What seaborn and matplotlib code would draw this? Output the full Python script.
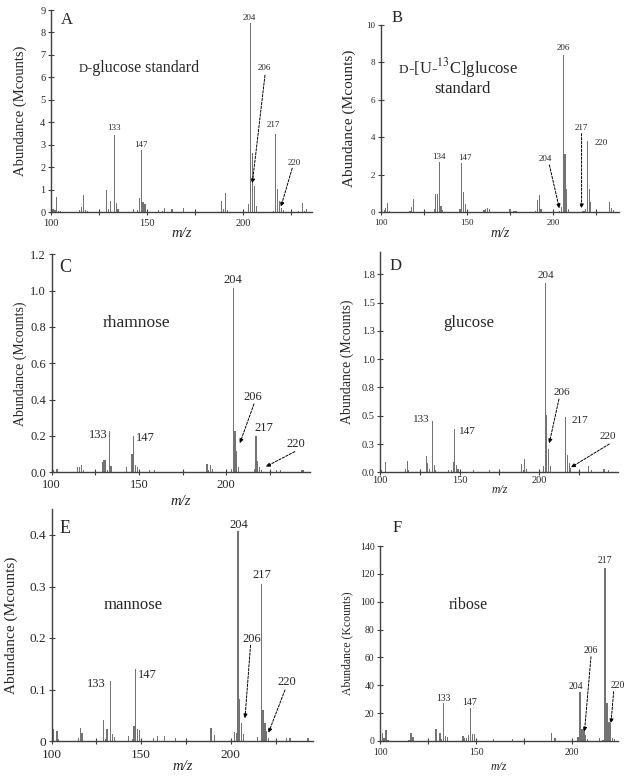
import matplotlib
matplotlib.use("Agg")
import matplotlib.pyplot as plt
import seaborn as sns
import pandas as pd

# ── Spectra (m/z, abundance) ───────────────────────────────────────────
A_MZ = [101, 102, 103, 104, 105, 115, 116, 117, 118, 119, 129, 130, 131, 133, 134, 135,
        143, 145, 146, 147, 148, 149, 156, 158, 159, 163, 169, 189, 190, 191, 192,
        203, 204, 205, 206, 207, 216, 217, 218, 219, 220, 221, 229, 231, 232, 233]
A_ABUND = [0.15, 0.1, 0.68, 0.07, 0.05, 0.1, 0.25, 0.75, 0.1, 0.08, 1.0, 0.15, 0.5, 3.44, 0.4, 0.15,
           0.15, 0.1, 0.62, 2.77, 0.45, 0.35, 0.1, 0.08, 0.2, 0.15, 0.2, 0.5, 0.15, 0.87, 0.1,
           0.35, 8.4, 2.63, 1.15, 0.28, 0.05, 3.5, 1.04, 0.5, 0.18, 0.1, 0.05, 0.43, 0.07, 0.15]

B_MZ = [102, 103, 104, 105, 117, 118, 119, 131, 132, 133, 134, 135, 136, 146, 147, 148, 149,
        160, 161, 162, 163, 175, 177, 178, 179, 190, 191, 192, 193, 204, 205, 206, 207, 208, 209,
        217, 218, 219, 220, 221, 222, 233, 234, 235]
B_ABUND = [0.1, 0.25, 0.52, 0.05, 0.05, 0.27, 0.72, 0.2, 1.0, 1.0, 2.7, 0.35, 0.1, 0.15, 2.65, 1.1, 0.45,
           0.1, 0.2, 0.22, 0.15, 0.2, 0.05, 0.05, 0.05, 0.05, 0.65, 0.93, 0.2, 0.05, 0.3, 8.4, 3.1, 1.23, 0.15,
           0.05, 0.05, 0.2, 3.83, 1.23, 0.53, 0.55, 0.25, 0.1]

C_MZ = [101, 103, 115, 116, 117, 118, 129, 130, 131, 132, 133, 134, 143, 146, 147, 148, 149,
        156, 159, 189, 190, 191, 192, 203, 204, 205, 206, 207, 216, 217, 218, 219, 220,
        229, 231, 243, 244]
C_ABUND = [0.015, 0.02, 0.03, 0.03, 0.04, 0.01, 0.055, 0.07, 0.065, 0.01, 0.228, 0.035, 0.03, 0.1, 0.2, 0.04, 0.03,
           0.01, 0.01, 0.045, 0.01, 0.04, 0.02, 0.02, 1.013, 0.23, 0.12, 0.03, 0.02, 0.2, 0.06, 0.03, 0.015,
           0.01, 0.01, 0.01, 0.01]

D_MZ = [101, 103, 116, 117, 118, 129, 130, 131, 133, 134, 135, 143, 145, 146, 147, 148, 149,
        159, 169, 189, 190, 191, 192, 203, 204, 205, 206, 207, 217, 218, 219, 220,
        231, 233, 241, 244]
D_ABUND = [0.02, 0.09, 0.03, 0.1, 0.02, 0.14, 0.08, 0.03, 0.45, 0.065, 0.02, 0.02, 0.02, 0.09, 0.38, 0.065, 0.03,
           0.02, 0.02, 0.07, 0.02, 0.12, 0.03, 0.06, 1.67, 0.507, 0.21, 0.06, 0.49, 0.15, 0.08, 0.035,
           0.055, 0.02, 0.03, 0.02]

E_MZ = [101, 103, 104, 115, 116, 117, 129, 130, 131, 133, 134, 135, 143, 145, 146, 147, 148, 149,
        157, 159, 163, 169, 189, 191, 202, 203, 204, 205, 206, 207, 215, 217, 218, 219, 220, 221,
        231, 233, 243]
E_ABUND = [0.023, 0.02, 0.004, 0.005, 0.025, 0.015, 0.041, 0.004, 0.024, 0.116, 0.014, 0.008, 0.01, 0.004,
           0.029, 0.139, 0.023, 0.021, 0.006, 0.01, 0.009, 0.005, 0.025, 0.011, 0.017, 0.016, 0.408, 0.081,
           0.034, 0.013, 0.008, 0.305, 0.06, 0.034, 0.02, 0.005, 0.005, 0.005, 0.005]

F_MZ = [101, 102, 103, 104, 115, 116, 117, 129, 131, 132, 133, 134, 135, 143, 144, 145, 146, 147, 148, 149,
        159, 169, 189, 191, 203, 204, 205, 206, 207, 208, 214, 216, 217, 218, 219, 220, 221, 222]
F_ABUND = [6, 2, 8, 1, 1, 6, 3, 8.4, 5.5, 1.5, 27, 3.5, 3, 3.5, 2.5, 2, 4, 23.4, 5, 5,
           1.5, 1.5, 6, 2.5, 3, 35.4, 8.5, 8.5, 4, 1.5, 2, 0.5, 124, 27.5, 13.5, 13, 2.4, 1.5]

# ── Style ──────────────────────────────────────────────────────────────
sns.set_style("ticks")
plt.rcParams["font.family"] = ["Liberation Serif", "DejaVu Serif"]
plt.rcParams["mathtext.fontset"] = "stix"

W, H = 632, 779
BAR_COLOR = "0.45"
AX_COLOR = "0.25"
fig = plt.figure(figsize=(W / 100, H / 100), dpi=100)


def px_axes(left, top, right, bottom):
    return fig.add_axes([left / W, 1 - bottom / H, (right - left) / W, (bottom - top) / H])


def draw_panel(box, mz, ab, xmax, ymax, yticks, ylabels, cfg):
    ax = px_axes(*box)
    df = pd.DataFrame({"mz": mz, "ab": ab})
    sns.barplot(data=df, x="mz", y="ab", native_scale=True, width=0.7, color=BAR_COLOR,
                saturation=1, errorbar=None, linewidth=0, ax=ax)
    ax.set_xlim(100, xmax)
    ax.set_ylim(0, ymax)
    sns.despine(ax=ax)
    for s in ("left", "bottom"):
        ax.spines[s].set_color(AX_COLOR)
        ax.spines[s].set_linewidth(1.0)
    ax.set_xticks([100, 150, 200])
    ax.set_xticks([t for t in (125, 175, 225) if t < xmax], minor=True)
    ax.set_yticks(yticks)
    ax.set_yticklabels(ylabels)
    ax.tick_params(axis="both", which="both", direction="inout", length=4, width=0.8,
                   color=AX_COLOR, labelsize=cfg["tick"])
    ax.tick_params(axis="x", pad=cfg["xpad"])
    ax.tick_params(axis="y", pad=2)
    w = box[2] - box[0]
    h = box[3] - box[1]
    ax.set_ylabel(cfg["ylab"], fontsize=cfg["yl"], va="center")
    ax.yaxis.set_label_coords(cfg["ydx"] / w, 0.5)
    ax.set_xlabel("m/z", fontsize=cfg["xl"], style="italic", va="center")
    ax.xaxis.set_label_coords(0.5, -cfg["xdy"] / h)
    return ax


def peak_labels(ax, labels, size):
    for txt, x, y in labels:
        ax.text(x, y, txt, fontsize=size, ha="center", va="center")


def arrows(ax, pairs):
    for start, tip in pairs:
        ax.annotate("", xy=tip, xytext=start,
                    arrowprops=dict(arrowstyle="-|>", color="black", lw=0.7,
                                    linestyle=(0, (2.5, 1.5)), mutation_scale=6,
                                    shrinkA=0, shrinkB=0))


# ── Panel A ────────────────────────────────────────────────────────────
ax = draw_panel((51, 10, 312, 212.3), A_MZ, A_ABUND, 236, 9, list(range(10)),
                [str(v) for v in range(10)],
                dict(tick=7.5, xpad=3, ylab="Abundance (Mcounts)", yl=10.5, ydx=-31, xl=10.5, xdy=21))
ax.text(108.2, 8.56, "A", fontsize=12, ha="center", va="center")
ax.text(118.9, 6.22, "D", fontsize=9, ha="right", va="baseline")
ax.text(118.9, 6.22, "-glucose standard", fontsize=11.5, ha="left", va="baseline")
peak_labels(ax, [("133", 132.8, 3.77), ("147", 146.9, 3.0), ("204", 203.6, 8.63),
                 ("206", 211.1, 6.4), ("217", 215.8, 3.9), ("220", 226.7, 2.2)], 6.5)
arrows(ax, [((211.5, 6.1), (204.9, 1.29)), ((225.7, 1.96), (219.8, 0.25))])

# ── Panel B ────────────────────────────────────────────────────────────
ax = draw_panel((380.7, 25, 619.3, 212.3), B_MZ, B_ABUND, 238.5, 10, list(range(0, 11, 2)),
                [str(v) for v in range(0, 11, 2)],
                dict(tick=6.5, xpad=3, ylab="Abundance (Mcounts)", yl=11, ydx=-31.4, xl=10, xdy=21))
ax.text(109.5, 10.36, "B", fontsize=12, ha="center", va="center")
ax.text(115.7, 7.42, "D", fontsize=9.5, ha="right", va="baseline")
ax.text(115.7, 7.42, r"-[U-$^{13}$C]glucose", fontsize=12, ha="left", va="baseline")
ax.text(147.6, 6.35, "standard", fontsize=12, ha="center", va="baseline")
peak_labels(ax, [("134", 134, 2.97), ("147", 148.9, 2.88), ("204", 195.5, 2.83),
                 ("206", 206, 8.79), ("217", 216.6, 4.48), ("220", 227.9, 3.68)], 6.5)
arrows(ax, [((197.9, 2.53), (203.7, 0.21)), ((216.6, 4.2), (216.6, 0.21))])

# ── Panel C ────────────────────────────────────────────────────────────
c_ticks = [0, 0.2, 0.4, 0.6, 0.8, 1.0, 1.2]
ax = draw_panel((51.7, 254.3, 310, 472.3), C_MZ, C_ABUND, 248, 1.2, c_ticks,
                [f"{v:.1f}" for v in c_ticks],
                dict(tick=9, xpad=3, ylab="Abundance (Mcounts)", yl=10, ydx=-31.7, xl=10.5, xdy=29))
ax.text(107.6, 1.13, "C", fontsize=13, ha="center", va="center")
ax.text(148.7, 0.82, "rhamnose", fontsize=12.5, ha="center", va="center")
peak_labels(ax, [("133", 126.7, 0.205), ("147", 153.4, 0.19), ("204", 204, 1.06),
                 ("206", 215.5, 0.417), ("217", 221.8, 0.246), ("220", 239.9, 0.156)], 9)
arrows(ax, [((215.9, 0.376), (207.8, 0.16)), ((239.3, 0.114), (222.7, 0.031))])

# ── Panel D ────────────────────────────────────────────────────────────
d_ticks = [0, 0.25, 0.5, 0.75, 1.0, 1.25, 1.5, 1.75]
d_labels = ["0.0", "0.3", "0.5", "0.8", "1.0", "1.3", "1.5", "1.8"]
ax = draw_panel((380.3, 251.7, 618.3, 472.3), D_MZ, D_ABUND, 250, 1.95, d_ticks, d_labels,
                dict(tick=7.5, xpad=1, ylab="Abundance (Mcounts)", yl=10, ydx=-32.6, xl=8.5, xdy=18))
ax.text(109.9, 1.82, "D", fontsize=12, ha="center", va="center")
ax.text(156, 1.317, "glucose", fontsize=12, ha="center", va="center")
peak_labels(ax, [("133", 125.6, 0.47), ("147", 154.6, 0.36), ("204", 204.4, 1.744),
                 ("206", 214.3, 0.707), ("217", 226, 0.457), ("220", 243.3, 0.315)], 8)
arrows(ax, [((212.6, 0.648), (206.5, 0.256)), ((244.3, 0.25), (220.2, 0.044))])

# ── Panel E ────────────────────────────────────────────────────────────
e_ticks = [0, 0.1, 0.2, 0.3, 0.4]
ax = draw_panel((51.5, 509.25, 313.3, 741), E_MZ, E_ABUND, 246, 0.45, e_ticks,
                ["0", "0.1", "0.2", "0.3", "0.4"],
                dict(tick=9.5, xpad=3.5, ylab="Abundance (Mcounts)", yl=11, ydx=-40, xl=10.5, xdy=26))
ax.text(107.5, 0.413, "E", fontsize=13, ha="center", va="center")
ax.text(145.6, 0.264, "mannose", fontsize=12, ha="center", va="center")
peak_labels(ax, [("133", 124.9, 0.11), ("147", 153.6, 0.128), ("204", 204.7, 0.419),
                 ("206", 211.6, 0.199), ("217", 217.2, 0.322), ("220", 231.5, 0.115)], 9)
arrows(ax, [((211, 0.186), (207.9, 0.044)), ((230.2, 0.099), (221, 0.016))])

# ── Panel F ────────────────────────────────────────────────────────────
f_ticks = list(range(0, 141, 20))
ax = draw_panel((380.3, 546, 617.5, 741), F_MZ, F_ABUND, 223.5, 140, f_ticks,
                [str(v) for v in f_ticks],
                dict(tick=7, xpad=3, ylab="Abundance (Kcounts)", yl=8.5, ydx=-32.6, xl=8.5, xdy=26))
ax.text(108.7, 152.6, "F", fontsize=12, ha="center", va="center")
ax.text(146, 97.6, "ribose", fontsize=11.5, ha="center", va="center")
peak_labels(ax, [("133", 132.8, 30.6), ("147", 146.4, 27.8), ("204", 201.6, 39),
                 ("206", 209.4, 65.3), ("217", 216.7, 129.9), ("220", 223.6, 40.2)], 7)
arrows(ax, [((209.7, 60.5), (206.3, 6.7)), ((221.5, 35.4), (220.1, 12.7))])

fig.savefig("out.png", dpi=100, facecolor="white")
